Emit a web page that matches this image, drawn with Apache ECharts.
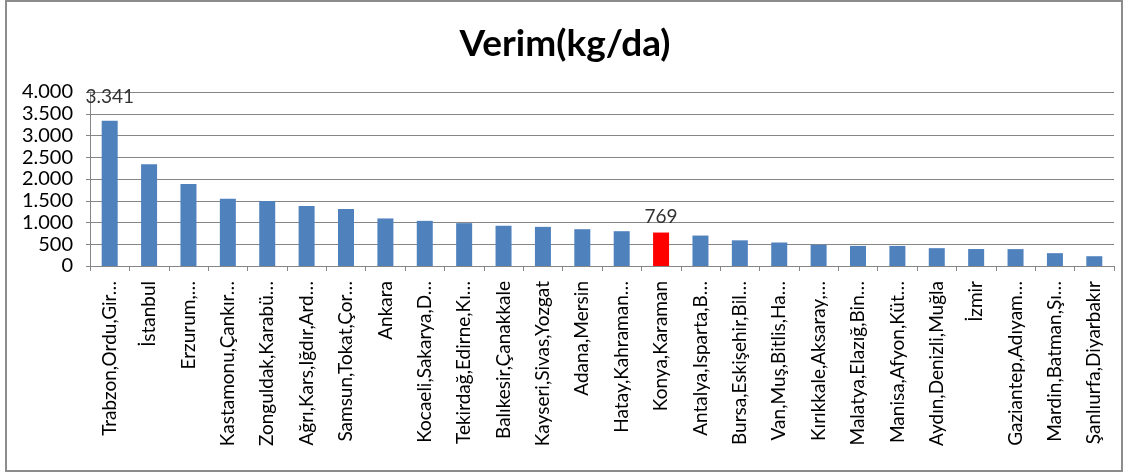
<!DOCTYPE html>
<html><head><meta charset="utf-8">
<script src="https://cdn.jsdelivr.net/npm/echarts@6/dist/echarts.min.js"></script>
<style>
html,body{margin:0;padding:0;background:#fff;}
#c{position:absolute;left:0;top:0;width:1130px;height:472px;}
#b{position:absolute;left:5px;top:0px;width:1114px;height:468px;border:2px solid #8c8c8c;pointer-events:none;}
</style></head>
<body><div id="c"></div><div id="b"></div>
<script>
const categories = ["Trabzon,Ordu,Gir…","İstanbul","Erzurum,…","Kastamonu,Çankır…","Zonguldak,Karabü…","Ağrı,Kars,Iğdır,Ard…","Samsun,Tokat,Çor…","Ankara","Kocaeli,Sakarya,D…","Tekirdağ,Edirne,Kı…","Balıkesir,Çanakkale","Kayseri,Sivas,Yozgat","Adana,Mersin","Hatay,Kahraman…","Konya,Karaman","Antalya,Isparta,B…","Bursa,Eskişehir,Bil…","Van,Muş,Bitlis,Ha…","Kırıkkale,Aksaray,…","Malatya,Elazığ,Bin…","Manisa,Afyon,Küt…","Aydın,Denizli,Muğla","İzmir","Gaziantep,Adıyam…","Mardin,Batman,Şı…","Şanlıurfa,Diyarbakır"];
const values = [3341,2340,1885,1546,1492,1380,1310,1093,1038,985,925,900,846,800,769,700,590,540,488,462,462,410,390,388,295,225];
const highlighted = ["Konya,Karaman"];
const labeled = ["Trabzon,Ordu,Gir…","Konya,Karaman"];
const yTicks = [0,500,1000,1500,2000,2500,3000,3500,4000];

const fmt = v => String(v).replace(/\B(?=(\d{3})+(?!\d))/g, '.');
const FONT = 'Lato';
const chart = echarts.init(document.getElementById('c'), null, {renderer:'canvas'});
chart.setOption({
  animation:false,
  backgroundColor:'#fff',
  title:{text:'Verim(kg/da)', left:'center', top:21,
    textStyle:{fontFamily:FONT, fontWeight:'bold', fontSize:37, color:'#000'}},
  grid:{left:90, right:16, top:92, bottom:206, containLabel:false},
  xAxis:{type:'category', data:categories,
    axisLine:{lineStyle:{color:'#868686', width:1}},
    axisTick:{show:true, length:5, interval:0, lineStyle:{color:'#868686'}},
    axisLabel:{rotate:90, interval:0, margin:15, fontFamily:FONT, fontSize:19, color:'#000'}},
  yAxis:{type:'value', min:yTicks[0], max:yTicks[yTicks.length-1], interval:500,
    axisLine:{show:true, lineStyle:{color:'#868686'}},
    axisTick:{show:true, length:4, lineStyle:{color:'#868686'}},
    splitLine:{lineStyle:{color:'#868686', width:1}},
    axisLabel:{formatter:v=>fmt(v), fontFamily:FONT, fontSize:20, color:'#000', margin:17}},
  series:[{type:'bar', barWidth:16,
    data: values.map((v,i)=>({value:v,
      itemStyle:{color: highlighted.includes(categories[i]) ? '#ff0000' : '#4f81bd'},
      label:{show: labeled.includes(categories[i]), position:'top', distance: i===0?14:6,
        formatter:p=>fmt(p.value), fontFamily:FONT, fontSize:19, color:'#333'}}))
  }]
});
</script></body></html>
